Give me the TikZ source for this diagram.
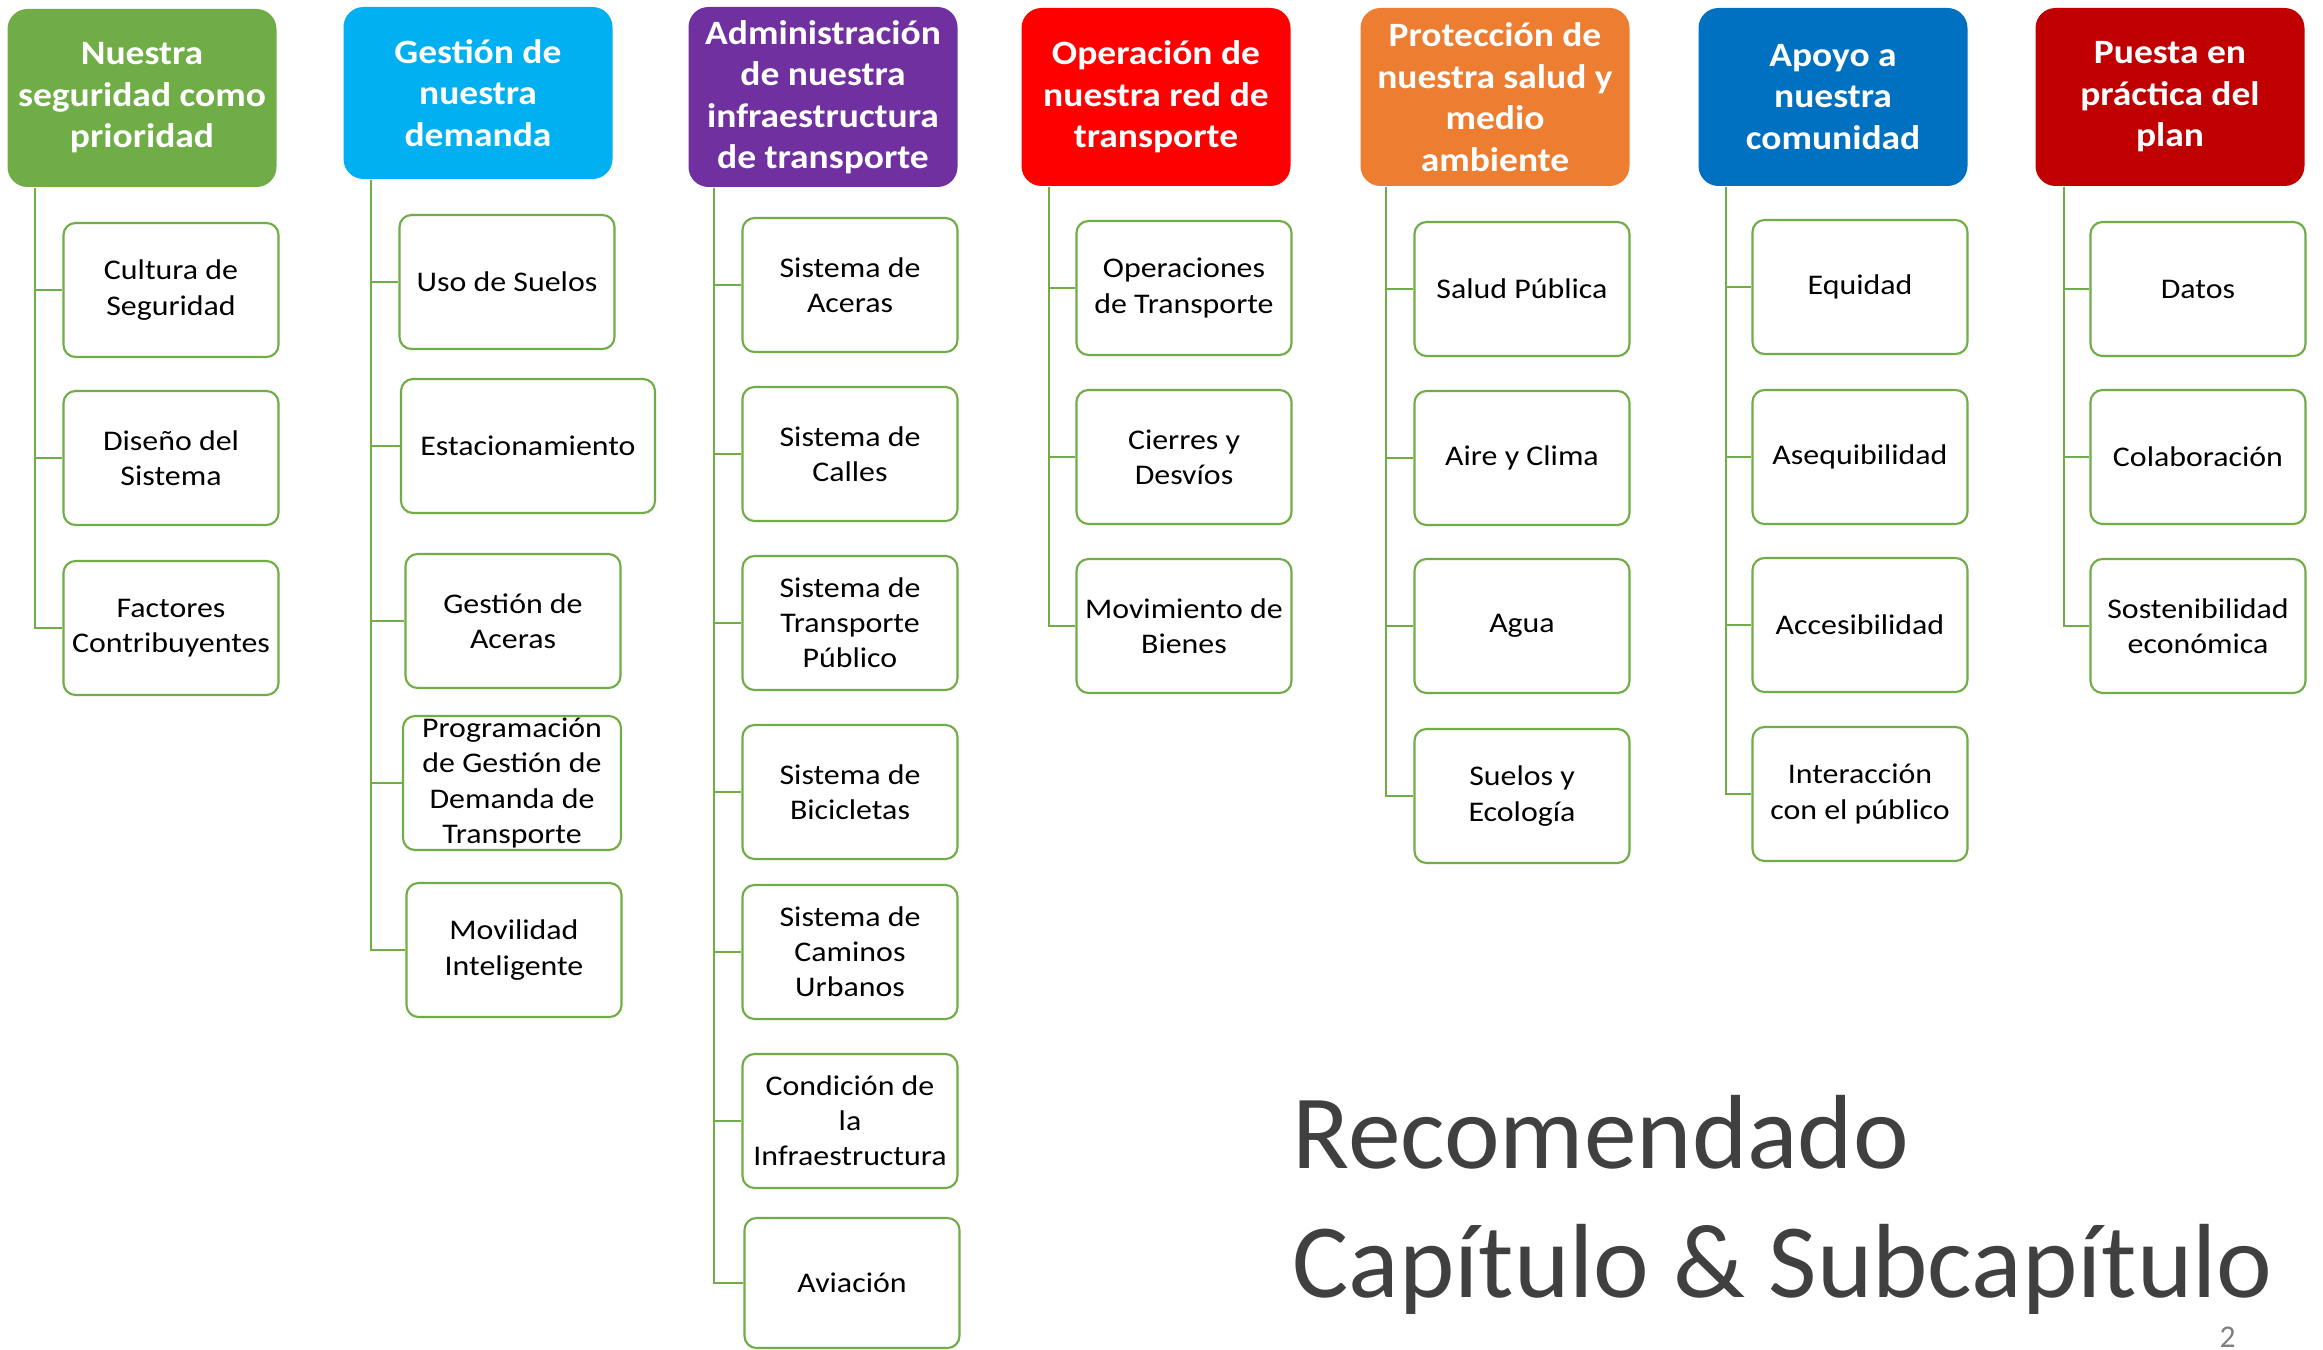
\documentclass[tikz,border=0pt]{standalone}
\usepackage{fontspec}
\setmainfont{Carlito}
\newfontfamily\widefont[FakeStretch=1.12]{Carlito}
\newfontfamily\hdrfont[FakeStretch=1.1]{Carlito}
\usetikzlibrary{positioning}

\definecolor{cgreen}{HTML}{70AD47}
\definecolor{ccyan}{HTML}{00B0F0}
\definecolor{cpurple}{HTML}{7030A0}
\definecolor{cred}{HTML}{FF0000}
\definecolor{corange}{HTML}{ED7D31}
\definecolor{cblue}{HTML}{0070C0}
\definecolor{cdred}{HTML}{C00000}
\definecolor{ctitle}{HTML}{404040}

\begin{document}
\begin{tikzpicture}[x=0.1mm, y=-0.1mm,
  hdr/.style={rectangle, rounded corners=2mm, align=center, text=white, inner sep=0pt, minimum width=26.9mm, minimum height=17.8mm, font=\hdrfont\bfseries\fontsize{9.7}{11.8}\selectfont},
  sub/.style={draw=cgreen, line width=0.6pt, fill=white, rectangle, rounded corners=1.2mm, align=center, inner sep=0pt, minimum width=21.5mm, minimum height=13.4mm, font=\widefont\fontsize{8.1}{10}\selectfont},
  link/.style={draw=cgreen, line width=0.6pt}]
\fill[white] (0,0) rectangle (2323,1350);
\useasboundingbox (0,0) rectangle (2323,1350);

% headers
\node[hdr, fill=cgreen] (h1) at (142,98) {Nuestra\\seguridad como\\prioridad};
\node[hdr, fill=ccyan, minimum height=17.2mm] (h2) at (478,93) {Gestión de\\nuestra\\demanda};
\node[hdr, fill=cpurple, minimum height=18mm] (h3) at (823,97) {Administración\\de nuestra\\infraestructura\\de transporte};
\node[hdr, fill=cred] (h4) at (1156,97) {Operación de\\nuestra red de\\transporte};
\node[hdr, fill=corange] (h5) at (1495,97) {Protección de\\nuestra salud y\\medio\\ambiente};
\node[hdr, fill=cblue] (h6) at (1833,97) {Apoyo a\\nuestra\\comunidad};
\node[hdr, fill=cdred] (h7) at (2170,97) {Puesta en\\práctica del\\plan};

\coordinate (t1) at ([xshift=2.8mm]h1.south west);
\coordinate (t2) at ([xshift=2.8mm]h2.south west);
\coordinate (t3) at ([xshift=2.6mm]h3.south west);
\coordinate (t4) at ([xshift=2.8mm]h4.south west);
\coordinate (t5) at ([xshift=2.6mm]h5.south west);
\coordinate (t6) at ([xshift=2.8mm]h6.south west);
\coordinate (t7) at ([xshift=2.9mm]h7.south west);

% column 1
\node[sub] (s1a) at (171,290) {Cultura de\\Seguridad};
\node[sub] (s1b) at (171,458) {Diseño del\\Sistema};
\node[sub] (s1c) at (171,628) {Factores\\Contribuyentes};

% column 2
\node[sub] (s2a) at (507,282) {Uso de Suelos};
\node[sub, minimum width=25.4mm] (s2b) at (528,446) {Estacionamiento};
\node[sub] (s2c) at (513,621) {Gestión de\\Aceras};
\node[sub, minimum width=21.8mm] (s2d) at (512,783) {Programación\\de Gestión de\\Demanda de\\Transporte};
\node[sub] (s2e) at (514,950) {Movilidad\\Inteligente};

% column 3
\node[sub] (s3a) at (850,285) {Sistema de\\Aceras};
\node[sub] (s3b) at (850,454) {Sistema de\\Calles};
\node[sub] (s3c) at (850,623) {Sistema de\\Transporte\\Público};
\node[sub] (s3d) at (850,792) {Sistema de\\Bicicletas};
\node[sub] (s3e) at (850,952) {Sistema de\\Caminos\\Urbanos};
\node[sub] (s3f) at (850,1121) {Condición de\\la\\Infraestructura};
\node[sub, minimum height=13mm] (s3g) at (852,1283) {Aviación};

% column 4
\node[sub] (s4a) at (1184,288) {Operaciones\\de Transporte};
\node[sub] (s4b) at (1184,457) {Cierres y\\Desvíos};
\node[sub] (s4c) at (1184,626) {Movimiento de\\Bienes};

% column 5
\node[sub] (s5a) at (1522,289) {Salud Pública};
\node[sub] (s5b) at (1522,458) {Aire y Clima};
\node[sub] (s5c) at (1522,626) {Agua};
\node[sub] (s5d) at (1522,796) {Suelos y\\Ecología};

% column 6
\node[sub] (s6a) at (1860,287) {Equidad};
\node[sub] (s6b) at (1860,457) {Asequibilidad};
\node[sub] (s6c) at (1860,625) {Accesibilidad};
\node[sub] (s6d) at (1860,794) {Interacción\\con el público};

% column 7
\node[sub] (s7a) at (2198,289) {Datos};
\node[sub] (s7b) at (2198,457) {Colaboración};
\node[sub] (s7c) at (2198,626) {Sostenibilidad\\económica};

% connectors
\draw[link] (t1) |- (s1a.west);
\draw[link] (t1) |- (s1b.west);
\draw[link] (t1) |- (s1c.west);

\draw[link] (t2) |- (s2a.west);
\draw[link] (t2) |- (s2b.west);
\draw[link] (t2) |- (s2c.west);
\draw[link] (t2) |- (s2d.west);
\draw[link] (t2) |- (s2e.west);

\draw[link] (t3) |- (s3a.west);
\draw[link] (t3) |- (s3b.west);
\draw[link] (t3) |- (s3c.west);
\draw[link] (t3) |- (s3d.west);
\draw[link] (t3) |- (s3e.west);
\draw[link] (t3) |- (s3f.west);
\draw[link] (t3) |- (s3g.west);

\draw[link] (t4) |- (s4a.west);
\draw[link] (t4) |- (s4b.west);
\draw[link] (t4) |- (s4c.west);

\draw[link] (t5) |- (s5a.west);
\draw[link] (t5) |- (s5b.west);
\draw[link] (t5) |- (s5c.west);
\draw[link] (t5) |- (s5d.west);

\draw[link] (t6) |- (s6a.west);
\draw[link] (t6) |- (s6b.west);
\draw[link] (t6) |- (s6c.west);
\draw[link] (t6) |- (s6d.west);

\draw[link] (t7) |- (s7a.west);
\draw[link] (t7) |- (s7b.west);
\draw[link] (t7) |- (s7c.west);

% title
\node[anchor=base west, inner sep=0pt, text=ctitle, font=\fontsize{30}{36}\selectfont] (rec) at (1292,1168) {Recomendado};
\node[anchor=base west, inner sep=0pt, text=ctitle, font=\fontsize{30}{36}\selectfont] (cap) at (1292,1297) {Capítulo \& Subcapítulo};
\node[anchor=base west, inner sep=0pt, text=gray, font=\fontsize{9}{10}\selectfont] (pg) at (2219,1347) {2};
\end{tikzpicture}
\end{document}
